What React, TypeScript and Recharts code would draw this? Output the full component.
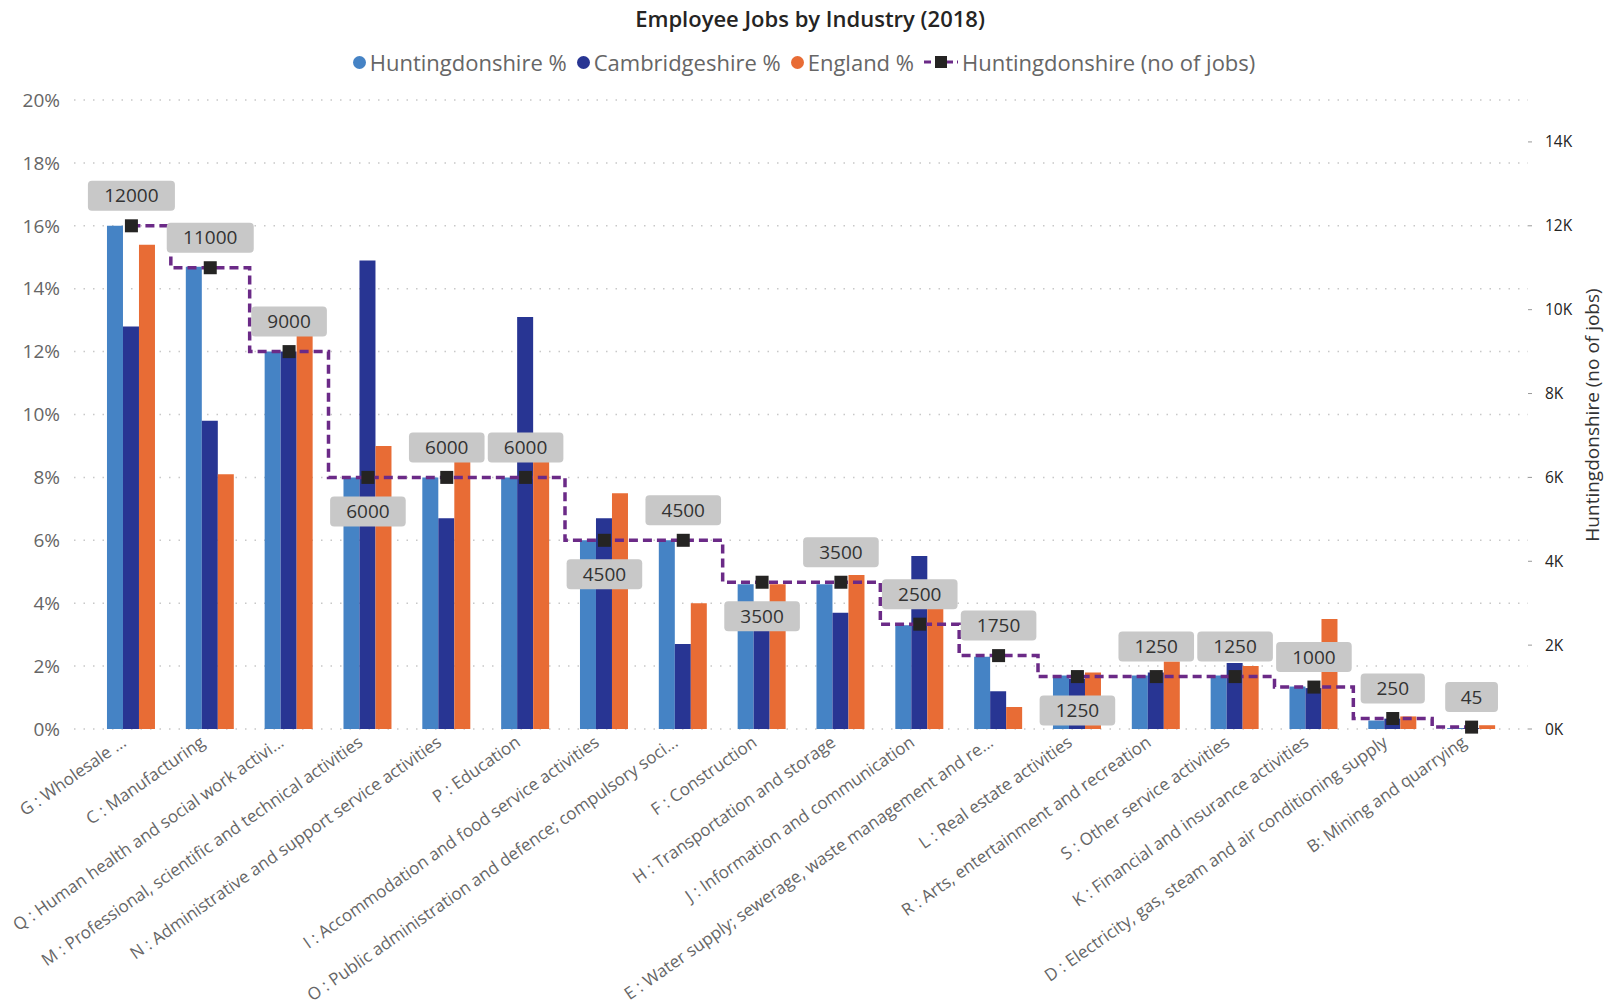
import React from "react";
import { ComposedChart, Bar, Line, XAxis, YAxis, CartesianGrid, LabelList } from "recharts";

const industries = [
  "G : Wholesale ...",
  "C : Manufacturing",
  "Q : Human health and social work activi...",
  "M : Professional, scientific and technical activities",
  "N : Administrative and support service activities",
  "P : Education",
  "I : Accommodation and food service activities",
  "O : Public administration and defence; compulsory soci...",
  "F : Construction",
  "H : Transportation and storage",
  "J : Information and communication",
  "E : Water supply; sewerage, waste management and re...",
  "L : Real estate activities",
  "R : Arts, entertainment and recreation",
  "S : Other service activities",
  "K : Financial and insurance activities",
  "D : Electricity, gas, steam and air conditioning supply",
  "B: Mining and quarrying",
];

const huntingdonshirePct = [16.0, 14.7, 12.0, 8.0, 8.0, 8.0, 6.0, 6.0, 4.6, 4.6, 3.3, 2.3, 1.7, 1.7, 1.7, 1.35, 0.27, 0.03];
const cambridgeshirePct = [12.8, 9.8, 12.0, 14.9, 6.7, 13.1, 6.7, 2.7, 3.5, 3.7, 5.5, 1.2, 1.6, 1.8, 2.1, 1.3, 0.33, 0.03];
const englandPct = [15.4, 8.1, 12.6, 9.0, 8.6, 8.6, 7.5, 4.0, 4.6, 4.9, 4.0, 0.7, 1.8, 2.15, 2.0, 3.5, 0.4, 0.12];
const huntingdonshireJobs = [12000, 11000, 9000, 6000, 6000, 6000, 4500, 4500, 3500, 3500, 2500, 1750, 1250, 1250, 1250, 1000, 250, 45];

const pctTicks = [0, 2, 4, 6, 8, 10, 12, 14, 16, 18, 20];
const jobTicks = [0, 2000, 4000, 6000, 8000, 10000, 12000, 14000];

// industries whose job-count label sits under the marker
const labelsBelow = new Set([3, 6, 8, 12]);

const HUNTS = "#4583C5";
const CAMBS = "#283593";
const ENGLAND = "#E86C35";
const JOBS_LINE = "#6B2A87";
const MARKER = "#252423";
const FONT = "'Open Sans', 'Noto Sans', sans-serif";

const rows = industries.map((name, i) => ({
  name,
  hunts: huntingdonshirePct[i],
  cambs: cambridgeshirePct[i],
  england: englandPct[i],
  jobs: huntingdonshireJobs[i],
}));

function IndustryTick({ x, y, payload }: any) {
  return (
    <g transform={`translate(${x - 11},${y - 2}) rotate(-35)`}>
      <text x={0} y={0} dy="0.71em" textAnchor="end" fill="#666" fontSize={17} fontFamily={FONT}>
        {payload.value}
      </text>
    </g>
  );
}

function JobsMarker({ cx, cy, index }: any) {
  if (cx == null || cy == null) return null;
  return <rect key={`m-${index}`} x={cx - 6.5} y={cy - 6.5} width={13} height={13} fill={MARKER} />;
}

function JobsLabel({ x, y, value, index }: any) {
  if (x == null || y == null) return null;
  const text = String(value);
  const w = text.length * 11.4 + 30;
  const h = 30;
  const cy = labelsBelow.has(index) ? y + 34 : y - 30;
  return (
    <g>
      <rect x={x - w / 2} y={cy - h / 2} width={w} height={h} rx={4} fill="#C8C8C8" />
      <text x={x} y={cy} dy="0.35em" textAnchor="middle" fill="#333" fontSize={19} fontFamily={FONT}>
        {text}
      </text>
    </g>
  );
}

function LegendDot({ color }: { color: string }) {
  return <span style={{ display: "inline-block", width: 13, height: 13, borderRadius: "50%", background: color, marginRight: 4 }} />;
}

export default function App() {
  return (
    <div style={{ position: "absolute", left: 0, top: 0, width: 1608, height: 1006, background: "#fff", fontFamily: FONT }}>
      <div
        style={{
          position: "absolute",
          top: 3,
          left: 0,
          width: 1608,
          textAlign: "center",
          fontSize: 22,
          fontWeight: 600,
          color: "#252423",
          paddingLeft: 6,
        }}
      >
        Employee Jobs by Industry (2018)
      </div>
      <div
        style={{
          position: "absolute",
          top: 47,
          left: 0,
          width: 1608,
          display: "flex",
          justifyContent: "center",
          alignItems: "center",
          fontSize: 22,
          color: "#666",
          gap: 10,
        }}
      >
        <span style={{ display: "flex", alignItems: "center" }}>
          <LegendDot color={HUNTS} />
          Huntingdonshire %
        </span>
        <span style={{ display: "flex", alignItems: "center" }}>
          <LegendDot color={CAMBS} />
          Cambridgeshire %
        </span>
        <span style={{ display: "flex", alignItems: "center" }}>
          <LegendDot color={ENGLAND} />
          England %
        </span>
        <span style={{ display: "flex", alignItems: "center" }}>
          <svg width={34} height={16} style={{ marginRight: 4 }}>
            <line x1={0} y1={8} x2={34} y2={8} stroke={JOBS_LINE} strokeWidth={3} strokeDasharray="7 4" />
            <rect x={11} y={2} width={12} height={12} fill={MARKER} />
          </svg>
          Huntingdonshire (no of jobs)
        </span>
      </div>
      <div
        style={{
          position: "absolute",
          left: 1592,
          top: 415,
          transform: "translate(-50%, -50%) rotate(-90deg)",
          whiteSpace: "nowrap",
          fontSize: 19,
          color: "#333",
        }}
      >
        Huntingdonshire (no of jobs)
      </div>
      <ComposedChart
        width={1608}
        height={1006}
        data={rows}
        margin={{ top: 100, right: 0, bottom: 0, left: 0 }}
        barCategoryGap="19%"
        barGap={0}
      >
        <CartesianGrid yAxisId="left" vertical={false} stroke="#C8C8C8" strokeDasharray="1.5 8" strokeWidth={1.5} />
        <XAxis
          dataKey="name"
          interval={0}
          height={277}
          padding={{ left: 18, right: 17 }}
          tickLine={false}
          axisLine={false}
          tick={<IndustryTick />}
        />
        <YAxis
          yAxisId="left"
          width={74}
          domain={[0, 20]}
          ticks={pctTicks}
          tickFormatter={(v: number) => `${v}%`}
          tickLine={false}
          axisLine={false}
          tickMargin={8}
          tick={{ fill: "#666", fontSize: 19 }}
        />
        <YAxis
          yAxisId="right"
          orientation="right"
          width={80}
          domain={[0, 15000]}
          ticks={jobTicks}
          tickFormatter={(v: number) => `${v / 1000}K`}
          axisLine={false}
          tickSize={4}
          tickMargin={13}
          tickLine={{ stroke: "#999" }}
          tick={{ fill: "#252423", fontSize: 15.5, textAnchor: "start" }}
        />
        <Bar yAxisId="left" dataKey="hunts" name="Huntingdonshire %" fill={HUNTS} isAnimationActive={false} />
        <Bar yAxisId="left" dataKey="cambs" name="Cambridgeshire %" fill={CAMBS} isAnimationActive={false} />
        <Bar yAxisId="left" dataKey="england" name="England %" fill={ENGLAND} isAnimationActive={false} />
        <Line
          yAxisId="right"
          type="step"
          dataKey="jobs"
          name="Huntingdonshire (no of jobs)"
          stroke={JOBS_LINE}
          strokeWidth={3.5}
          strokeDasharray="9 5"
          dot={<JobsMarker />}
          activeDot={false}
          isAnimationActive={false}
        >
          <LabelList dataKey="jobs" content={<JobsLabel />} />
        </Line>
      </ComposedChart>
    </div>
  );
}
